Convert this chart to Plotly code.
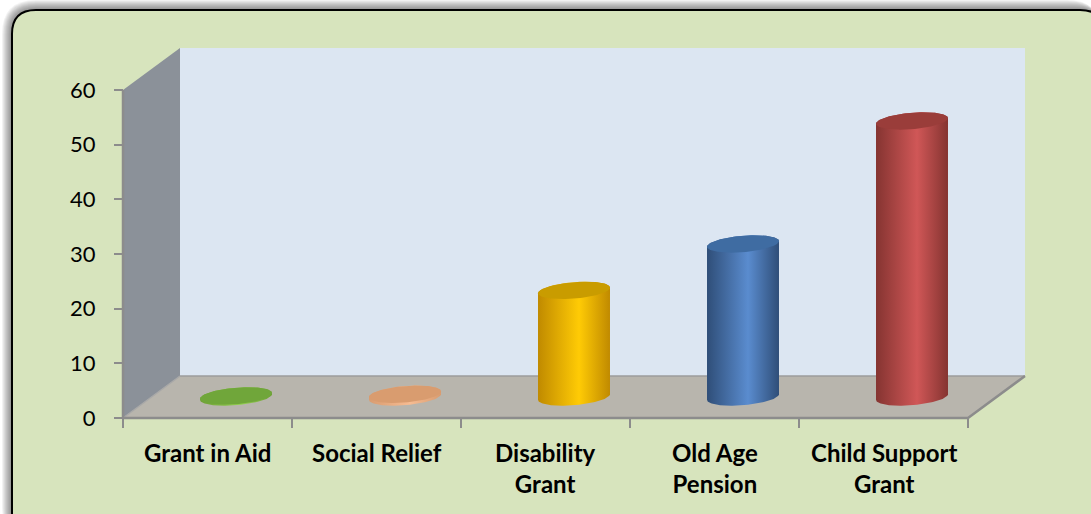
import numpy as np
import plotly.graph_objects as go

# ---------------- data ----------------
categories = ["Grant in Aid", "Social Relief", "Disability<br>Grant", "Old Age<br>Pension", "Child Support<br>Grant"]
values = [0.2, 0.5, 19.5, 28.0, 50.5]
y_ticks = [0, 10, 20, 30, 40, 50, 60]
y_tick_labels = ["0", "10", "20", "30", "40", "50", "60"]

# body: (edge, highlight), top colour
body_edge = ["#6E9E35", "#D99C70", "#C08A00", "#2F4E78", "#853431"]
body_light = ["#93D150", "#F6BC92", "#FFCB05", "#5A8CCF", "#D05757"]
top_color = ["#70A63A", "#D99C6F", "#C99C00", "#3F6CA2", "#9A3D3A"]

# ---------------- geometry (pixel calibration of the axes) ----------------
W, H = 1091, 514
X0_PX, X5_PX = 123, 968      # x = 0 and x = 5 (categories)
Y0_PX, Y60_PX = 418, 90      # value 0 and 60
ppc = (X5_PX - X0_PX) / 5.0
ppv = (Y0_PX - Y60_PX) / 60.0
x_range = [(0 - X0_PX) / ppc, (W - X0_PX) / ppc]
y_range = [(Y0_PX - H) / ppv, (Y0_PX - 0) / ppv]
DX = 57 / ppc                # depth offset in x units
DY = 42 / ppv                # depth offset in value units
YMAX = 60
NCAT = len(categories)

A = 34 / ppc                 # cylinder radius along x
RD = 0.207                   # cylinder radius along depth (fraction)

fig = go.Figure()

def poly(xs, ys, color, **kw):
    fig.add_trace(go.Scatter(x=list(xs), y=list(ys), mode="lines", fill="toself",
                             fillcolor=color, line=dict(width=0), hoverinfo="skip",
                             showlegend=False, **kw))

def seg(x, y, color, width):
    fig.add_trace(go.Scatter(x=x, y=y, mode="lines", line=dict(color=color, width=width),
                             hoverinfo="skip", showlegend=False))

# walls and floor
poly([DX, DX + NCAT, DX + NCAT, DX], [DY, DY, DY + YMAX, DY + YMAX], "#DCE6F2")
poly([0, DX, DX, 0], [0, DY, DY + YMAX, YMAX], "#8B9199")
poly([0, NCAT, NCAT + DX, DX], [0, 0, DY, DY], "#B8B5AD")
seg([DX, DX + NCAT], [DY, DY], "#9C9C9C", 1.5)
seg([0, DX], [0, DY], "#A8A8A8", 1.5)
seg([0, NCAT, NCAT + DX], [0, 0, DY], "#8C8C8C", 2.5)
seg([0, 0], [0, YMAX], "#8C8C8C", 2.5)

# cylinders
tr = np.arctan2(RD * DX, A)
front = np.linspace(np.pi + tr, 2 * np.pi + tr, 80)
back = np.linspace(tr, np.pi + tr, 80)
full = np.linspace(0, 2 * np.pi, 120)

def ell(cx, cy, t):
    return cx + A * np.cos(t) + RD * DX * np.sin(t), cy + RD * DY * np.sin(t)

for i, v in enumerate(values):
    cx = i + 0.5 + 0.5 * DX
    cy0 = 0.5 * DY
    cy1 = v + 0.5 * DY
    bx, by = ell(cx, cy0, front)
    tx, ty = ell(cx, cy1, back)
    xs = np.concatenate([bx, tx, bx[:1]])
    ys = np.concatenate([by, ty, by[:1]])
    fig.add_trace(go.Scatter(x=xs, y=ys, mode="lines", fill="toself",
                             line=dict(width=0), hoverinfo="skip", showlegend=False,
                             fillgradient=dict(type="horizontal",
                                               colorscale=[[0, body_edge[i]], [0.57, body_light[i]], [1, body_edge[i]]])))
    ex, ey = ell(cx, cy1, full)
    poly(ex, ey, top_color[i])

# category labels
for i, c in enumerate(categories):
    fig.add_annotation(x=i + 0.5, y=(Y0_PX - 436) / ppv, xref="x", yref="y", text=c,
                       showarrow=False, xanchor="center", yanchor="top", align="center",
                       font=dict(family="Lato", size=24, color="#000000", weight="bold"))

# background rounded box with shadow
def rrect(x0, y0, x1, y1, r):
    def p(x, y):
        return f"{x / W:.6f},{1 - y / H:.6f}"
    return (f"M {p(x0 + r, y0)} L {p(x1 - r, y0)} Q {p(x1, y0)} {p(x1, y0 + r)} "
            f"L {p(x1, y1 - r)} Q {p(x1, y1)} {p(x1 - r, y1)} L {p(x0 + r, y1)} "
            f"Q {p(x0, y1)} {p(x0, y1 - r)} L {p(x0, y0 + r)} Q {p(x0, y0)} {p(x0 + r, y0)} Z")

shapes = []
for k in range(10, 0, -1):
    shapes.append(dict(type="path", xref="paper", yref="paper",
                       path=rrect(12 - k, 10 - k, 1104 - k * 0.3, 540, 24 + k),
                       fillcolor="rgba(0,0,0,0.05)", line=dict(width=0), layer="below"))
shapes.append(dict(type="path", xref="paper", yref="paper",
                   path=rrect(12, 10, 1104, 540, 24),
                   fillcolor="#D7E4BD", line=dict(color="#000000", width=2), layer="below"))

fig.update_layout(
    width=W, height=H, margin=dict(l=0, r=0, t=0, b=0),
    paper_bgcolor="#FFFFFF", plot_bgcolor="rgba(0,0,0,0)",
    shapes=shapes, showlegend=False,
    xaxis=dict(range=x_range, domain=[0, 1], anchor="free", position=(H - Y0_PX) / H,
               tickvals=list(range(NCAT + 1)), showticklabels=False,
               ticks="outside", ticklen=9, tickwidth=2, tickcolor="#8C8C8C",
               showgrid=False, zeroline=False, showline=False, fixedrange=True),
    yaxis=dict(range=y_range, domain=[0, 1], anchor="free", position=X0_PX / W,
               tickvals=y_ticks, ticktext=y_tick_labels,
               ticks="outside", ticklen=9, tickwidth=2, tickcolor="#8C8C8C",
               ticklabelstandoff=14,
               tickfont=dict(family="Lato", size=22, color="#000000"),
               showgrid=False, zeroline=False, showline=False, fixedrange=True),
)

fig.write_html("out.html")
